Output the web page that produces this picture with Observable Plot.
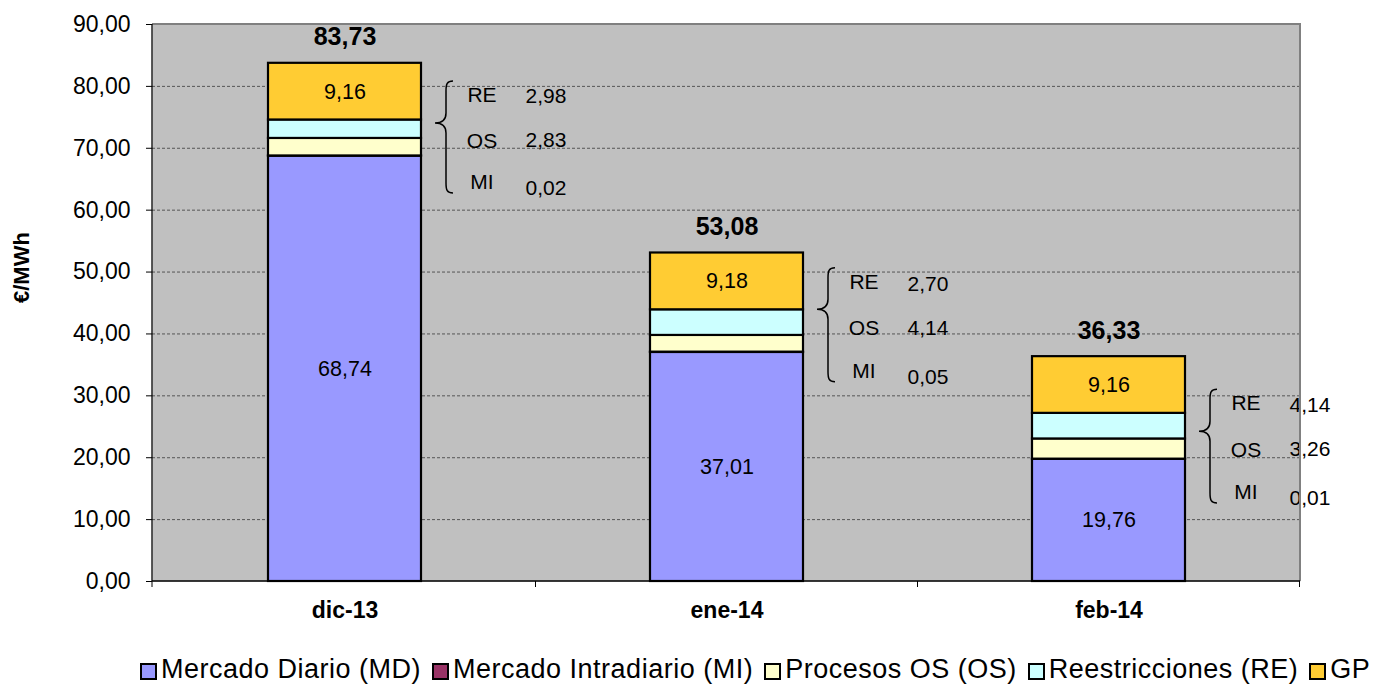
<!DOCTYPE html>
<html><head><meta charset="utf-8">
<script src="https://cdn.jsdelivr.net/npm/d3@7"></script>
<script src="https://cdn.jsdelivr.net/npm/@observablehq/plot@0.6"></script>
<style>
body{margin:0;background:#fff;font-family:"Liberation Sans",Arial,sans-serif;overflow:hidden;}
#legend{display:flex;align-items:center;margin-top:14px;padding-left:140px;font-size:27px;line-height:31px;letter-spacing:0.5px;color:#000;white-space:nowrap;}
#legend .item{display:flex;align-items:center;margin-right:11px;}
#legend .sw{width:13px;height:13px;border:2px solid #000;margin-right:4px;margin-top:3px;}
</style></head>
<body><div id="chart"></div><div id="legend"></div>
<script>
const months = ["dic-13", "ene-14", "feb-14"];
const seriesNames = ["Mercado Diario (MD)", "Mercado Intradiario (MI)", "Procesos OS (OS)", "Reestricciones (RE)", "GP"];
const seriesCodes = ["MD", "MI", "OS", "RE", "GP"];
const seriesColors = ["#9999FF", "#993366", "#FFFFCC", "#CCFFFF", "#FFCC33"];
const MD = [68.74, 37.01, 19.76];
const MI = [0.02, 0.05, 0.01];
const OS = [2.83, 2.70, 3.26];
const RE = [2.98, 4.14, 4.14];
const GP = [9.16, 9.18, 9.16];
const totals = [83.73, 53.08, 36.33];
// bracket annotations, as printed next to each bar
const annRE = ["2,98", "2,70", "4,14"];
const annOS = ["2,83", "4,14", "3,26"];
const annMI = ["0,02", "0,05", "0,01"];
// bracket extent in €/MWh
const braceTop = [80.8, 50.6, 31.0];
const braceTip = [74.0, 43.9, 24.2];
const braceBottom = [62.7, 32.2, 12.6];
const yTicks = [0, 10, 20, 30, 40, 50, 60, 70, 80, 90];

const fmt = v => v.toFixed(2).replace(".", ",");
const valuesBySeries = [MD, MI, OS, RE, GP];
const rows = [];
months.forEach((m, i) => {
  seriesCodes.forEach((c, j) => {
    rows.push({month: m, code: c, series: seriesNames[j], value: valuesBySeries[j][i]});
  });
});
const totalRows = months.map((m, i) => ({month: m, total: totals[i]}));
const annRows = [];
months.forEach((m, i) => {
  const span = braceTop[i] - braceBottom[i];
  annRows.push({month: m, code: "RE", y: braceTop[i] - 0.12 * span, val: annRE[i], vy: braceTop[i] - 0.12 * span - 0.3});
  annRows.push({month: m, code: "OS", y: braceTop[i] - 0.53 * span, val: annOS[i], vy: braceTop[i] - 0.53 * span + 0.1});
  annRows.push({month: m, code: "MI", y: braceBottom[i] + 0.1 * span, val: annMI[i], vy: braceBottom[i] + 0.1 * span - 1.0});
});

function decorations(index, scales, values, dimensions) {
  const x = scales.x, y = scales.y;
  const bw = x.bandwidth();
  const step = x.step();
  const {marginLeft, marginTop, marginBottom, marginRight, width, height} = dimensions;
  const y0 = height - marginBottom;
  const g = d3.create("svg:g");
  g.append("path").attr("d", `M${marginLeft},${marginTop}H${width - marginRight}V${y0}`)
    .attr("fill", "none").attr("stroke", "#808080").attr("stroke-width", 2);
  g.append("line").attr("x1", marginLeft).attr("x2", marginLeft).attr("y1", marginTop).attr("y2", y0)
    .attr("stroke", "#000").attr("stroke-width", 1.3);
  g.append("line").attr("x1", marginLeft).attr("x2", width - marginRight).attr("y1", y0).attr("y2", y0)
    .attr("stroke", "#000").attr("stroke-width", 1.3);
  const bounds = [marginLeft].concat(months.map(m => x(m) + bw + (step - bw) / 2));
  bounds.forEach(b => g.append("line").attr("x1", b).attr("x2", b).attr("y1", y0).attr("y2", y0 + 6)
    .attr("stroke", "#000").attr("stroke-width", 1));
  months.forEach((m, i) => {
    const X = x(m) + bw + 25;
    const T = y(braceTop[i]), M = y(braceTip[i]), B = y(braceBottom[i]);
    const tX = X - 11;
    const d = `M${X + 7},${T} C${X + 1},${T} ${X},${T + 3} ${X},${T + 10} L${X},${M - 10} C${X},${M - 3} ${X - 4},${M} ${tX},${M} C${X - 4},${M} ${X},${M + 3} ${X},${M + 10} L${X},${B - 10} C${X},${B - 3} ${X + 1},${B} ${X + 7},${B}`;
    g.append("path").attr("d", d).attr("fill", "none").attr("stroke", "#000").attr("stroke-width", 1.5);
  });
  return g.node();
}

const chart = Plot.plot({
  width: 1400,
  height: 640,
  marginLeft: 152,
  marginRight: 100,
  marginTop: 24,
  marginBottom: 59,
  style: {fontFamily: "Liberation Sans, Arial, sans-serif", fontSize: "21px", color: "#000", background: "#fff", overflow: "visible"},
  x: {domain: months, paddingInner: 0.6, paddingOuter: 0.3},
  y: {domain: [0, 90]},
  color: {domain: seriesNames, range: seriesColors},
  marks: [
    Plot.frame({fill: "#C0C0C0", stroke: "none"}),
    Plot.gridY(yTicks.filter(t => t > 0 && t < 90), {stroke: "#555", strokeOpacity: 1, strokeWidth: 1, strokeDasharray: "3,2"}),
    Plot.axisY(yTicks, {tickFormat: fmt, tickSize: 6, tickPadding: 16, fontSize: 23, label: null, stroke: "#000"}),
    Plot.axisX({tickSize: 0, tickPadding: 20, fontSize: 23, fontWeight: "bold", label: null}),
    Plot.barY(rows, {x: "month", y: "value", fill: "series", stroke: "#000", strokeWidth: 2.2, order: null}),
    Plot.text(rows, Plot.stackY({x: "month", y: "value", z: "series", order: null,
      text: d => (d.code === "MD" || d.code === "GP") ? fmt(d.value) : null, fontSize: 21.5, fill: "#000"})),
    Plot.text(totalRows, {x: "month", y: "total", text: d => fmt(d.total), dy: -26, fontSize: 25, fontWeight: "bold", fill: "#000"}),
    Plot.text(annRows, {x: "month", y: "y", text: "code", dx: 137, fontSize: 21, fill: "#000", clip: false}),
    Plot.text(annRows, {x: "month", y: "vy", text: "val", dx: 201, fontSize: 21, fill: "#000", clip: false}),
    Plot.text(["€/MWh"], {frameAnchor: "left", rotate: -90, dx: -131, fontSize: 22, fontWeight: "bold", fill: "#000"}),
    decorations
  ]
});
document.getElementById("chart").appendChild(chart);

const legend = document.getElementById("legend");
seriesNames.forEach((name, j) => {
  const item = document.createElement("div");
  item.className = "item";
  const sw = document.createElement("span");
  sw.className = "sw";
  sw.style.background = seriesColors[j];
  const t = document.createElement("span");
  t.textContent = name;
  item.appendChild(sw);
  item.appendChild(t);
  legend.appendChild(item);
});
</script>
</body></html>
